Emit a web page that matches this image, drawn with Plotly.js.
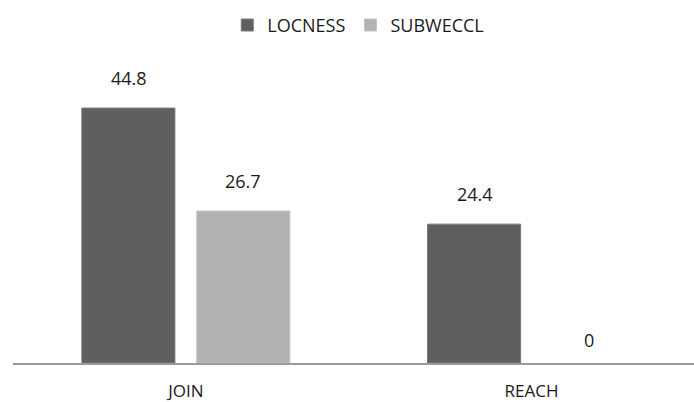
<!DOCTYPE html>
<html><head><meta charset="utf-8">
<script src="https://cdn.plot.ly/plotly-3.0.1.min.js"></script>
<style>html,body{margin:0;padding:0;background:#fff}#chart{width:694px;height:402px}</style>
</head><body><div id="chart"></div>
<script>
const categories = ["JOIN", "REACH"];
const seriesNames = ["LOCNESS", "SUBWECCL"];
const locness = [44.8, 24.4];
const subweccl = [26.7, 0];
const colors = ["#5f5f5f", "#b2b2b2"];
const FONT = "Open Sans, sans-serif";

const values = [locness, subweccl];
const traces = values.map((v, i) => ({
  type: "bar", name: seriesNames[i], x: categories, y: v,
  marker: {color: colors[i], line: {color: i === 0 ? "#7a7a7a" : "#c4c4c4", width: v.map(d => d > 0 ? 1 : 0)}},
  hoverinfo: "none"
}));

const annotations = [];
values.forEach((v, i) => {
  v.forEach((val, j) => {
    annotations.push({
      x: categories[j], y: val, xref: "x", yref: "y",
      text: String(val), showarrow: false,
      xshift: i === 0 ? -57 : 57, yshift: val === 0 ? 23 : 30,
      font: {family: FONT, size: 18, color: "#1a1a1a"}
    });
  });
});

const layout = {
  width: 694, height: 402,
  margin: {l: 13, r: 0, t: 50, b: 39, autoexpand: false},
  paper_bgcolor: "#fff", plot_bgcolor: "#fff",
  barmode: "group", bargap: 0.335, bargroupgap: 0.19,
  showlegend: true,
  legend: {orientation: "h", x: 0.507, xanchor: "center", y: 1.138, yanchor: "top",
    font: {family: FONT, size: 18, color: "#1a1a1a"}, itemwidth: 30, traceorder: "normal"},
  xaxis: {range: [-0.5, 1.47], showgrid: false, zeroline: false, showline: true,
    linecolor: "#9a9a9a", linewidth: 2, ticks: "outside", ticklen: 12, tickcolor: "rgba(0,0,0,0)",
    tickfont: {family: FONT, size: 17, color: "#1a1a1a"}, fixedrange: true},
  yaxis: {range: [0, 55], visible: false, showgrid: false, zeroline: false, fixedrange: true},
  annotations: annotations
};
Plotly.newPlot("chart", traces, layout, {displayModeBar: false, staticPlot: true});
</script></body></html>
